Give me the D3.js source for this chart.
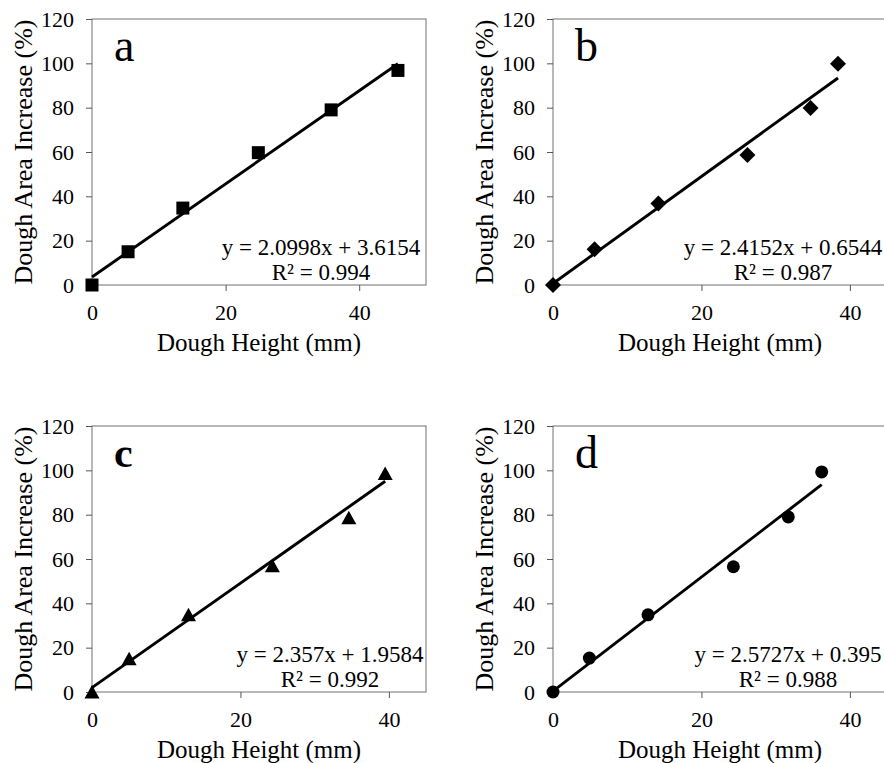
<html>
    <head>
       <style>
body {
    margin: 0;
    background: #fff;
}
svg text {
    font-family: "Liberation Serif", "Times New Roman", serif;
    fill: #000;
}
.frame {
    fill: none;
    stroke: #707070;
    stroke-width: 1px;
}
.tick line {
    stroke: #555;
}
.fit {
    fill: none;
    stroke: #000;
    stroke-width: 2.9px;
}
       </style>
    </head>
    <body>

        <svg></svg>

        <script src="https://cdn.jsdelivr.net/npm/d3@7/dist/d3.min.js"></script>

        <script>
// dough height (mm) vs dough area increase (%), four formulations
var panelLabels = ["a", "b", "c", "d"];
var heightA = [0, 5.4, 13.6, 24.9, 35.8, 45.8];
var areaA   = [0, 15.0, 34.7, 59.7, 79.0, 96.8];
var heightB = [0, 5.6, 14.2, 26.2, 34.7, 38.4];
var areaB   = [0, 16.1, 36.8, 58.6, 79.8, 99.8];
var heightC = [0, 5.0, 13.0, 24.3, 34.6, 39.5];
var areaC   = [0, 15.0, 34.8, 57.0, 78.6, 98.6];
var heightD = [0, 4.9, 12.8, 24.3, 31.7, 36.2];
var areaD   = [0, 15.3, 34.8, 56.5, 79.0, 99.3];
var slopes = [2.0998, 2.4152, 2.357, 2.5727];
var intercepts = [3.6154, 0.6544, 1.9584, 0.395];
var rSquared = ["0.994", "0.987", "0.992", "0.988"];
var xMax = [50, 45, 45, 45];
var xTicks = [0, 20, 40];
var yTicks = [0, 20, 40, 60, 80, 100, 120];
var xTitle = "Dough Height (mm)";
var yTitle = "Dough Area Increase (%)";

var heights = [heightA, heightB, heightC, heightD];
var areas = [areaA, areaB, areaC, areaD];
var shapes = ["square", "diamond", "triangle", "circle"];

var width = 884, height = 763;
var plotW = 334, plotH = 266;
var origins = [[92, 19], [553, 19], [92, 426], [553, 426]];
var serif = "'Liberation Serif', 'Times New Roman', serif";

var svg = d3.select("svg")
    .attr("width", width)
    .attr("height", height)
    .attr("font-family", serif);

function marker(shape) {
  if (shape == "square") return "M-6.5,-6.5H6.5V6.5H-6.5Z";
  if (shape == "diamond") return "M0,-8L8,0L0,8L-8,0Z";
  if (shape == "triangle") return "M0,-7L7.5,6.5L-7.5,6.5Z";
  return "M6.5,0A6.5,6.5 0 1,1 -6.5,0A6.5,6.5 0 1,1 6.5,0Z";
}

panelLabels.forEach(function(label, i) {
  var g = svg.append("g")
      .attr("transform", "translate(" + origins[i][0] + "," + origins[i][1] + ")");

  var x = d3.scaleLinear().domain([0, xMax[i]]).range([0, plotW]);
  var y = d3.scaleLinear().domain([0, 120]).range([plotH, 0]);

  g.append("rect")
      .attr("class", "frame")
      .attr("width", plotW)
      .attr("height", plotH);

  var yAxis = g.append("g")
      .call(d3.axisLeft(y).tickValues(yTicks).tickSize(6).tickSizeOuter(0).tickPadding(12));
  var xAxis = g.append("g")
      .attr("transform", "translate(0," + plotH + ")")
      .call(d3.axisBottom(x).tickValues(xTicks).tickSize(6).tickSizeOuter(0).tickPadding(13));
  [xAxis, yAxis].forEach(function(ax) {
    ax.attr("font-family", serif).attr("font-size", 22);
    ax.select(".domain").remove();
    ax.selectAll("text")
        .style("font-family", serif)
        .style("font-size", "22px")
        .attr("fill", "#000");
  });

  g.append("text")
      .attr("x", plotW / 2)
      .attr("y", plotH + 66)
      .attr("text-anchor", "middle")
      .style("font-size", "25px")
      .text(xTitle);

  g.append("text")
      .attr("transform", "translate(-60," + (plotH / 2) + ") rotate(-90)")
      .attr("text-anchor", "middle")
      .style("font-size", "26px")
      .text(yTitle);

  g.append("text")
      .attr("x", 22)
      .attr("y", i == 2 ? 41 : 42)
      .style("font-size", i == 2 ? "42px" : "46px")
      .style("font-weight", i == 2 ? "bold" : "normal")
      .text(label);

  var xs = heights[i], ys = areas[i];
  var line = d3.line()
      .x(function(d) { return x(d); })
      .y(function(d) { return y(slopes[i] * d + intercepts[i]); });
  g.append("path")
      .attr("class", "fit")
      .attr("d", line([d3.min(xs), d3.max(xs)]));

  g.selectAll(".pt")
      .data(xs)
    .enter().append("path")
      .attr("class", "pt")
      .attr("transform", function(d, j) { return "translate(" + x(d) + "," + y(ys[j]) + ")"; })
      .attr("d", marker(shapes[i]))
      .attr("fill", "#000");

  var cx = [229, 230, 238, 235][i];
  g.append("text")
      .attr("x", cx)
      .attr("y", plotH - 30)
      .attr("text-anchor", "middle")
      .style("font-size", "23px")
      .text("y = " + slopes[i] + "x + " + intercepts[i]);
  g.append("text")
      .attr("x", cx)
      .attr("y", plotH - 5)
      .attr("text-anchor", "middle")
      .style("font-size", "23px")
      .text("R\u00b2 = " + rSquared[i]);
});
        </script>
    </body>
</html>
